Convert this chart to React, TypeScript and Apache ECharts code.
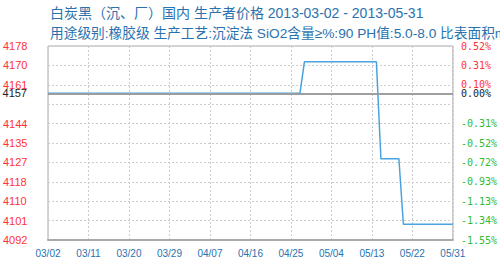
import React, { useEffect, useRef } from "react";
import * as echarts from "echarts";

// Chart title lines
const titleText = "白炭黑（沉、厂）国内 生产者价格 2013-03-02 - 2013-05-31";
const subtitleText =
  "用途级别:橡胶级 生产工艺:沉淀法 SiO2含量≥%:90 PH值:5.0-8.0 比表面积m2/g:150-200";

// Period covered by the x axis
const startDate = "2013-03-02";
const endDate = "2013-05-31";

// Price observations (dates where the price changes)
const priceDates = ["03/02", "04/27", "04/28", "05/14", "05/15", "05/19", "05/20", "05/31"];
const prices = [4157, 4157, 4171, 4171, 4128, 4128, 4099, 4099];

// Reference (base) price, drawn as the 0% line
const basePrice = 4157;

// Value axis range and tick labels (bottom to top)
const yMin = 4092;
const yMax = 4178;
const yStep = 8.6;
const leftTickLabels = ["4092", "4101", "4110", "4118", "4127", "4135", "4144", "", "4161", "4170", "4178"];
const rightTickLabels = ["-1.55%", "-1.34%", "-1.13%", "-0.93%", "-0.72%", "-0.52%", "-0.31%", "", "0.10%", "0.31%", "0.52%"];

function buildDateCategories(from: string, to: string): string[] {
  const out: string[] = [];
  const d = new Date(from + "T00:00:00Z");
  const end = new Date(to + "T00:00:00Z");
  while (d.getTime() <= end.getTime()) {
    const mm = String(d.getUTCMonth() + 1).padStart(2, "0");
    const dd = String(d.getUTCDate()).padStart(2, "0");
    out.push(`${mm}/${dd}`);
    d.setUTCDate(d.getUTCDate() + 1);
  }
  return out;
}

const RED = "#ff3333";
const GREEN = "#33bb33";
const BLUE_TEXT = "#2a72ae";

export default function App() {
  const ref = useRef<HTMLDivElement>(null);

  useEffect(() => {
    if (!ref.current) return;
    const chart = echarts.init(ref.current, undefined, { renderer: "svg" });
    const categories = buildDateCategories(startDate, endDate);
    const seriesData = priceDates.map((d, i) => [d, prices[i]]);

    const labelColor = (labels: string[]) => (_v: any, idx: number) => {
      const s = labels[idx] || "";
      return s.startsWith("-") ? GREEN : RED;
    };

    chart.setOption({
      animation: false,
      backgroundColor: "#ffffff",
      title: [
        {
          text: titleText,
          left: 45,
          top: 1,
          textStyle: {
            fontFamily: "'Liberation Sans', 'Noto Sans CJK SC', sans-serif",
            fontSize: 14,
            fontWeight: "normal",
            color: BLUE_TEXT,
          },
        },
        {
          text: subtitleText,
          left: 45,
          top: 22,
          textStyle: {
            fontFamily: "'Liberation Sans', 'Noto Sans CJK SC', sans-serif",
            fontSize: 13.7,
            fontWeight: "normal",
            color: BLUE_TEXT,
          },
        },
      ],
      grid: {
        left: 45,
        right: 47,
        top: 46,
        bottom: 26,
        show: true,
        borderColor: "#aaaaaa",
        borderWidth: 1,
        backgroundColor: "transparent",
      },
      xAxis: {
        type: "category",
        data: categories,
        boundaryGap: false,
        axisLine: { show: true, lineStyle: { color: "#aaaaaa", width: 2 } },
        axisTick: { show: false },
        axisLabel: {
          interval: 8,
          margin: 8,
          color: BLUE_TEXT,
          fontSize: 10,
          fontFamily: "'Liberation Sans', sans-serif",
        },
        splitLine: {
          show: true,
          interval: 8,
          lineStyle: { color: "#cccccc", type: [2, 2], width: 1 },
        },
      },
      yAxis: [
        {
          type: "value",
          min: yMin,
          max: yMax,
          interval: yStep,
          position: "left",
          axisLine: { show: false },
          axisTick: { show: false },
          axisLabel: {
            align: "left",
            margin: 45,
            fontSize: 11,
            fontFamily: "'Liberation Sans', sans-serif",
            formatter: (_v: number, idx: number) => leftTickLabels[idx] ?? "",
            color: labelColor(leftTickLabels),
          },
          splitLine: {
            show: true,
            lineStyle: { color: "#cccccc", type: [2, 2], width: 1 },
          },
        },
        {
          type: "value",
          min: yMin,
          max: yMax,
          interval: yStep,
          position: "right",
          axisLine: { show: false },
          axisTick: { show: false },
          axisLabel: {
            margin: 8,
            fontSize: 10,
            fontFamily: "'DejaVu Sans Mono', monospace",
            formatter: (_v: number, idx: number) => rightTickLabels[idx] ?? "",
            color: labelColor(rightTickLabels),
          },
          splitLine: { show: false },
        },
      ],
      series: [
        {
          // 0% reference line
          type: "line",
          data: [],
          z: 1,
          markLine: {
            silent: true,
            symbol: ["none", "none"],
            lineStyle: { color: "#999999", type: "solid", width: 1.5 },
            data: [
              {
                yAxis: basePrice,
                label: {
                  show: true,
                  position: "start",
                  distance: 21,
                  formatter: String(basePrice),
                  color: "#222222",
                  fontSize: 11,
                  fontFamily: "'Liberation Sans', sans-serif",
                },
              },
              {
                yAxis: basePrice,
                label: {
                  show: true,
                  position: "end",
                  distance: 8,
                  formatter: "0.00%",
                  color: "#222222",
                  fontSize: 10,
                  fontFamily: "'DejaVu Sans Mono', monospace",
                },
              },
            ],
          },
        },
        {
          type: "line",
          data: seriesData,
          z: 3,
          symbol: "none",
          lineStyle: { color: "#4aa3df", width: 1.5 },
        },
      ],
    });

    return () => chart.dispose();
  }, []);

  return (
    <div
      ref={ref}
      style={{ position: "fixed", left: 0, top: 0, width: 500, height: 266 }}
    />
  );
}
